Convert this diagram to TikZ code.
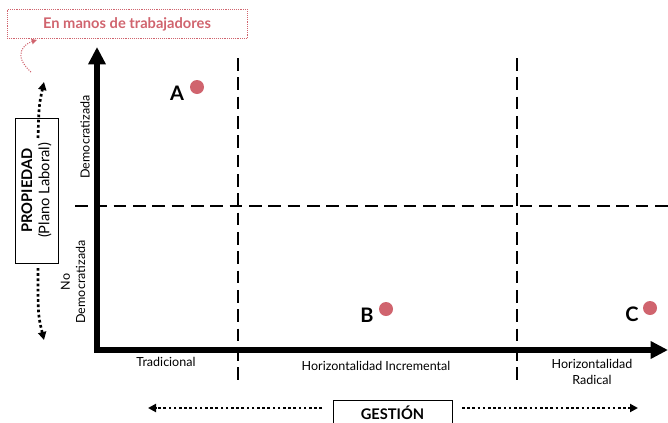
\documentclass[tikz,border=0pt]{standalone}
\usepackage{fontspec}
\setmainfont{Lato}
\usetikzlibrary{arrows.meta}
\definecolor{rosa}{RGB}{208,100,110}

\begin{document}
\begin{tikzpicture}[
  x = 0.75pt, y = -0.75pt,
  axis/.style = {
    line width = 3.8pt,
    {Triangle[length = 13pt, width = 12.5pt]}-{Triangle[length = 13pt, width = 12.5pt]},
  },
  divider/.style = {line width = 2pt, dash pattern = on 9.5pt off 5pt},
  dotarrow/.style = {
    line width = 2pt,
    dash pattern = on 2pt off 1.9pt,
    -{Triangle[length = 6pt, width = 6pt]},
  },
  point/.style = {
    shape = circle,
    fill = rosa,
    minimum size = 10.5pt,
    inner sep = 0pt,
  },
  pointlabel/.style = {font = \fontsize{15}{17}\selectfont\bfseries},
  axislabel/.style = {font = \fontsize{9.4}{11.5}\selectfont, align = center},
  title/.style = {draw = black, font = \fontsize{11}{13}\selectfont\bfseries, align = center},
]
  \clip (0, 0) rectangle (668, 422);

  % axes and the grid of the four regions
  \coordinate (origin) at (97, 350);
  \coordinate (ytip) at (97, 47);
  \coordinate (xtip) at (668, 350);
  \draw[axis] (ytip) |- (xtip);

  \coordinate (g1top) at (238, 58);
  \coordinate (g1bot) at (238, 386);
  \coordinate (g2top) at (517, 58);
  \coordinate (g2bot) at (517, 386);
  \coordinate (hleft) at (75, 206);
  \coordinate (hright) at (668, 206);
  \draw[divider] (g1top) -- (g1bot);
  \draw[divider] (g2top) -- (g2bot);
  \draw[divider] (hleft) -- (hright);

  % cases
  \node[point] (a) at (197, 87) {};
  \node[pointlabel] (alabel) at (177, 93) {A};
  \node[point] (b) at (386, 309) {};
  \node[pointlabel] (blabel) at (367, 315) {B};
  \node[point] (c) at (650, 308) {};
  \node[pointlabel] (clabel) at (632, 314) {C};

  % labels along the axes
  \node[axislabel, rotate = 90] (dem) at (85, 137) {Democratizada};
  \node[axislabel, rotate = 90] (nodem) at (73, 282) {No\\Democratizada};
  \node[axislabel] (trad) at (166, 362) {Tradicional};
  \node[axislabel] (incr) at (376, 366) {Horizontalidad Incremental};
  \node[axislabel] (radi) at (592, 372) {Horizontalidad\\Radical};

  % property box
  \node[title, rotate = 90, minimum width = 109pt, minimum height = 32pt, inner sep = 0pt]
    (prop) at (36.5, 190.5)
    {PROPIEDAD\\\mdseries(Plano Laboral)};
  \coordinate (propup) at (38, 138);
  \coordinate (propupend) at (44, 82);
  \coordinate (propdown) at (38, 268);
  \coordinate (propdownend) at (44, 340);
  \draw[dotarrow] (propup) .. controls (39, 105) .. (propupend);
  \draw[dotarrow] (propdown) .. controls (38, 315) .. (propdownend);

  % management box
  \node[title, minimum width = 89pt, minimum height = 19.5pt, inner sep = 0pt]
    (gest) at (392.5, 413) {GESTIÓN};
  \coordinate (gleft) at (322, 408);
  \coordinate (gleftend) at (148, 408);
  \coordinate (gright) at (462, 408);
  \coordinate (grightend) at (638, 408);
  \draw[dotarrow] (gleft) -- (gleftend);
  \draw[dotarrow] (gright) -- (grightend);

  % owners
  \node[draw = rosa, densely dotted, text = rosa, minimum width = 180pt, minimum height = 22pt,
    font = \fontsize{11}{13}\selectfont\bfseries] (own) at (127, 24) {En manos de trabajadores};
  \coordinate (ownfrom) at (31, 72);
  \coordinate (ownto) at (37, 40);
  \draw[rosa, densely dotted, line width = 0.8pt, -{Triangle[length = 4pt, width = 4pt]}]
    (ownfrom) .. controls (12, 55) and (24, 44) .. (ownto);
\end{tikzpicture}
\end{document}
